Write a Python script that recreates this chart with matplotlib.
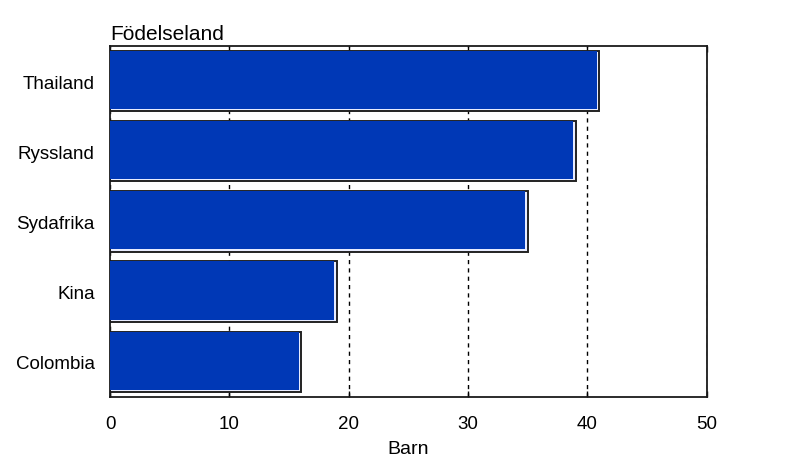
import matplotlib.pyplot as plt

plt.rcParams["font.family"] = ["Liberation Sans", "DejaVu Sans"]

countries = ["Thailand", "Ryssland", "Sydafrika", "Kina", "Colombia"]
children = [41, 39, 35, 19, 16]

fig = plt.figure(figsize=(8.06, 4.6), dpi=100)
ax = fig.add_axes([0.1365, 0.135, 0.7405, 0.763])

pos = list(range(len(countries)))[::-1]

ax.set_axisbelow(True)
ax.grid(axis="x", color="black", linestyle=(0, (3, 3)), linewidth=1.0)
# outer bar with dark border
ax.barh(pos, children, height=0.86, color="#e8ecff",
        edgecolor="#222222", linewidth=1.4, zorder=2)
# blue face shifted up/left so a light line shows at bottom and right
ax.barh([p + 0.015 for p in pos], [c - 0.2 for c in children], height=0.83,
        color="#0038b6", linewidth=0, zorder=3)

ax.set_xlim(0, 50)
ax.set_ylim(-0.5, 4.5)
ax.set_xticks([0, 10, 20, 30, 40, 50])
ax.set_yticks(pos)
ax.set_yticklabels(countries)
ax.tick_params(axis="x", direction="in", top=True, length=4, width=1,
               labelsize=13.5, pad=13)
ax.tick_params(axis="y", length=0, labelsize=13.5, pad=11)
for s in ax.spines.values():
    s.set_linewidth(1.3)
    s.set_color("#1a1a1a")

ax.set_xlabel("Barn", fontsize=14, labelpad=6)
fig.text(0.1365, 0.9035, "Födelseland", fontsize=15, ha="left", va="bottom")

fig.savefig("out.png", dpi=100)
